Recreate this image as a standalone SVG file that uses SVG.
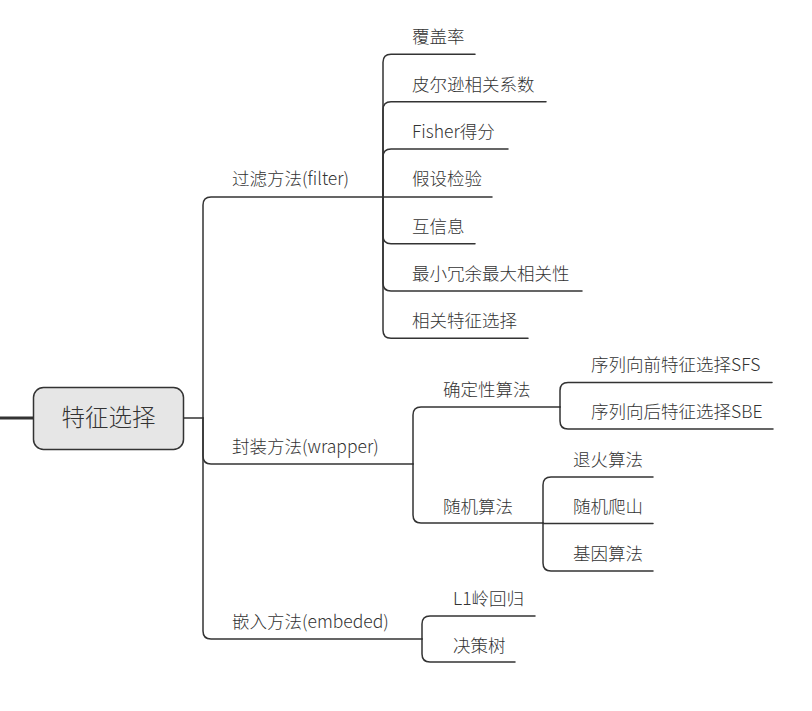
<svg xmlns="http://www.w3.org/2000/svg" width="812" height="711" viewBox="0 0 812 711">
<style>
.c{fill:none;stroke:#333;stroke-width:1.5;stroke-linecap:round}
.t{font-family:"Noto Sans CJK SC","Noto Sans",sans-serif;font-size:17.5px;font-weight:300;fill:#333}
.r{font-family:"Noto Sans CJK SC","Noto Sans",sans-serif;font-size:23.5px;font-weight:300;fill:#333}
</style>
<rect width="812" height="711" fill="#fff"/>
<g id="connectors">
<path class="c" d="M0 418 H33" style="stroke-width:3"/>
<path class="c" d="M183 418 H203"/>
<path class="c" d="M203 418 V205 Q203 197 211 197 H383"/>
<path class="c" d="M203 418 V456 Q203 464 211 464 H413"/>
<path class="c" d="M203 418 V631 Q203 639 211 639 H422"/>
<path class="c" d="M383 197 V62.3 Q383 54.3 391 54.3 H475"/>
<path class="c" d="M383 197 V109.7 Q383 101.7 391 101.7 H546"/>
<path class="c" d="M383 197 V157 Q383 149 391 149 H508"/>
<path class="c" d="M383 197 H492"/>
<path class="c" d="M383 197 V235.7 Q383 243.7 391 243.7 H475"/>
<path class="c" d="M383 197 V283 Q383 291 391 291 H582"/>
<path class="c" d="M383 197 V330.3 Q383 338.3 391 338.3 H528"/>
<path class="c" d="M413 464 V415 Q413 407 421 407 H560"/>
<path class="c" d="M413 464 V515 Q413 523 421 523 H543"/>
<path class="c" d="M560 407 V390.5 Q560 382.5 568 382.5 H772"/>
<path class="c" d="M560 407 V421 Q560 429 568 429 H773"/>
<path class="c" d="M543 523 V485 Q543 477 551 477 H653"/>
<path class="c" d="M543 523.5 H653"/>
<path class="c" d="M543 523 V563 Q543 571 551 571 H653"/>
<path class="c" d="M422 639 V624 Q422 616 430 616 H535"/>
<path class="c" d="M422 639 V654 Q422 662 430 662 H515"/>
</g>
<g id="root">
<rect x="33.5" y="387.5" width="150" height="62" rx="10" fill="#e6e6e6" stroke="#333" stroke-width="1.5"/>
<text class="r" x="108.5" y="425.5" text-anchor="middle">特征选择</text>
</g>
<g id="filter"><text class="t" x="232" y="184.5">过滤方法(filter)</text></g>
<g id="wrapper"><text class="t" x="232" y="453">封装方法(wrapper)</text></g>
<g id="embedded"><text class="t" x="232" y="628">嵌入方法(embeded)</text></g>
<g id="f1"><text class="t" x="412" y="43">覆盖率</text></g>
<g id="f2"><text class="t" x="412" y="90.5">皮尔逊相关系数</text></g>
<g id="f3"><text class="t" x="412" y="138">Fisher得分</text></g>
<g id="f4"><text class="t" x="412" y="185">假设检验</text></g>
<g id="f5"><text class="t" x="412" y="232.5">互信息</text></g>
<g id="f6"><text class="t" x="412" y="280">最小冗余最大相关性</text></g>
<g id="f7"><text class="t" x="412" y="327">相关特征选择</text></g>
<g id="w1"><text class="t" x="443" y="395.5">确定性算法</text></g>
<g id="w2"><text class="t" x="443" y="513">随机算法</text></g>
<g id="d1"><text class="t" x="591" y="370.5">序列向前特征选择SFS</text></g>
<g id="d2"><text class="t" x="591" y="418">序列向后特征选择SBE</text></g>
<g id="s1"><text class="t" x="573" y="465.5">退火算法</text></g>
<g id="s2"><text class="t" x="573" y="512.5">随机爬山</text></g>
<g id="s3"><text class="t" x="573" y="559.5">基因算法</text></g>
<g id="e1"><text class="t" x="453" y="604.5">L1岭回归</text></g>
<g id="e2"><text class="t" x="453" y="651.5">决策树</text></g>
</svg>
